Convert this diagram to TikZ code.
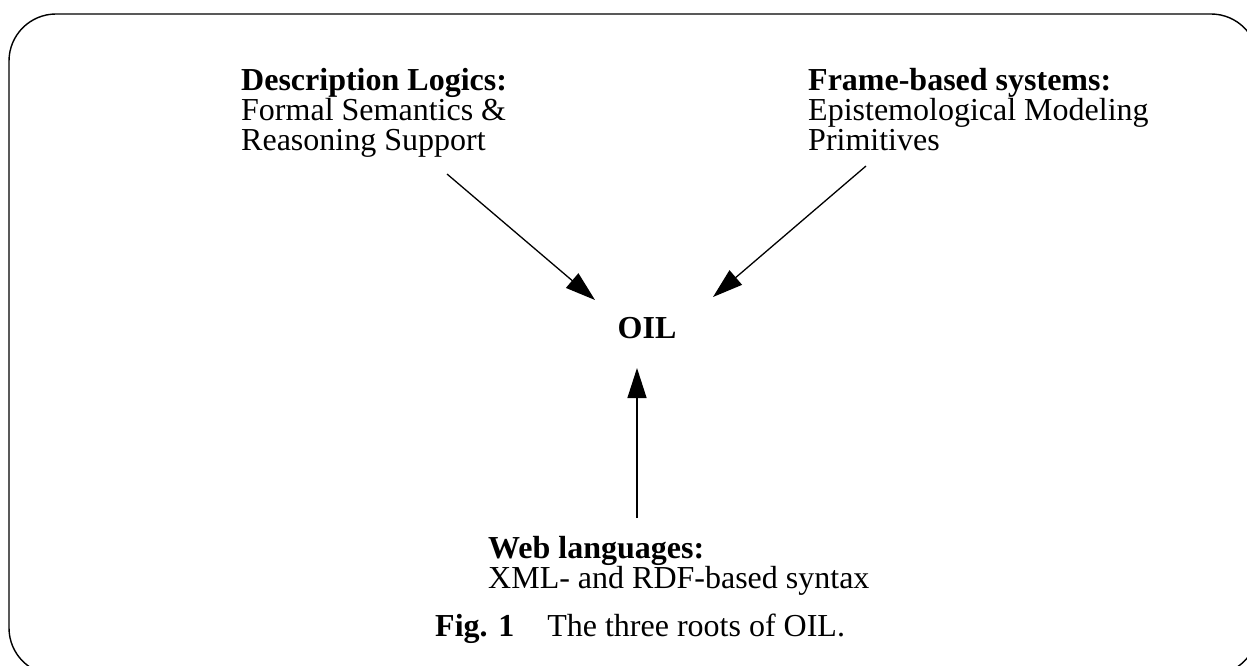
\documentclass[tikz,border=0pt]{standalone}
\usepackage{fontspec}
\setmainfont{Liberation Serif}
\usetikzlibrary{arrows.meta}
\tikzset{
  txt/.style={anchor=base west, inner sep=0pt, align=left,
    font=\fontsize{32}{30}\selectfont},
  root/.style={-{Triangle[length=30pt,width=19pt]}, line width=1.3pt},
  frame/.style={line width=1.4pt, rounded corners=47pt}
}
\begin{document}
\begin{tikzpicture}[x=1pt,y=-1pt]
\useasboundingbox (0,0) rectangle (1247,666);
\begin{scope}
  \clip (0,0) rectangle (1247,666);
  \draw[frame] (9,14) rectangle (1258,675);
\end{scope}

% multi-line nodes: the base anchor sits on the last line
\node[txt] (dl) at (241,150) {\textbf{Description Logics:}\\Formal Semantics \&\\Reasoning Support};
\node[txt] (fb) at (808,150) {\textbf{Frame-based systems:}\\Epistemological Modeling\\Primitives};
\node[txt] (web) at (488,588) {\textbf{Web languages:}\\XML- and RDF-based syntax};
\node[anchor=base, inner sep=0pt, font=\fontsize{32}{30}\selectfont\bfseries] (oil) at (647,338) {OIL};

\coordinate (dls) at (447,174);
\coordinate (dle) at (595,300);
\coordinate (fbs) at (866,166);
\coordinate (fbe) at (713,297);
\coordinate (ws) at (637,518);
\coordinate (we) at (637,368);
\draw[root] (dls) -- (dle);
\draw[root] (fbs) -- (fbe);
\draw[root] (ws) -- (we);

\node[txt] (cap) at (435,636) {\textbf{Fig. 1}\hspace{33pt}The three roots of OIL.};
\end{tikzpicture}
\end{document}
